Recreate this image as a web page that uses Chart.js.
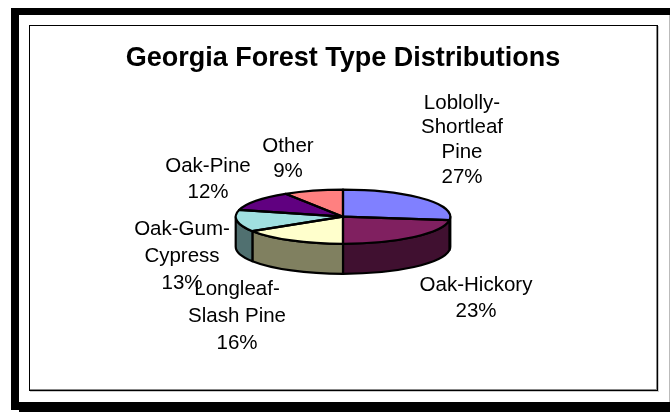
<!DOCTYPE html>
<html>
<head>
<meta charset="utf-8">
<title>Georgia Forest Type Distributions</title>
<script src="https://cdn.jsdelivr.net/npm/chart.js@4"></script>
<style>
  html, body { margin: 0; padding: 0; background: #fff; }
  body { width: 670px; height: 412px; overflow: hidden; position: relative; }
  .frame, .edge, .inner, canvas { position: absolute; box-sizing: border-box; }
  .bar { position: absolute; background: #000; }
  .edge { left: 669px; top: 15px; width: 1px; height: 387px; background: #bbb; }
  .inner { left: 29px; top: 25px; width: 629px; height: 366px; border: 1.5px solid #000; box-shadow: -1px -1px 0 #888 inset, 1px 1px 0 #ccc; }
  canvas { left: 0; top: 0; }
</style>
</head>
<body>
<div class="bar" style="left:11px;top:8px;width:8px;height:402px"></div>
<div class="bar" style="left:11px;top:8px;width:659px;height:7px"></div>
<div class="bar" style="left:19px;top:402px;width:651px;height:10px"></div>
<div class="edge"></div>
<div class="inner"></div>
<canvas id="chart" width="670" height="412"></canvas>

<script>
// ====== DATA ======
const chartTitle = 'Georgia Forest Type Distributions';
const categories = [
  ['Loblolly-', 'Shortleaf', 'Pine'],
  ['Oak-Hickory'],
  ['Longleaf-', 'Slash Pine'],
  ['Oak-Gum-', 'Cypress'],
  ['Oak-Pine'],
  ['Other']
];
const shares = [27, 23, 16, 13, 12, 9];
const topColors = ['#8080ff', '#802060', '#ffffcc', '#a0e0e0', '#600080', '#ff8080'];
const wallColors = ['#404080', '#401030', '#808060', '#507070', '#300040', '#804040'];

// ====== PIE LOOK ======
const tilt = 27 / 107;   // height/width of the top ellipse
const depth = 30;        // wall height in px
const labelFont = '20.5px "Liberation Sans", Arial, sans-serif';
// centre x, first line y and line gap of each label
const labelSpots = [
  [462, 103, 24.7], [476, 285, 26], [237, 289, 27],
  [182, 229, 27.3], [208, 166, 26], [288, 146, 25]
];

// ====== 3D PLUGIN ======
function centerOf(chart) {
  const arc = chart.getDatasetMeta(0).data[0];
  return { x: arc.x, y: arc.y, r: arc.outerRadius };
}

function strokeBlack(ctx) {
  ctx.lineWidth = 2.2;
  ctx.lineJoin = 'round';
  ctx.strokeStyle = '#000';
  ctx.stroke();
}

const tiltedPie = {
  id: 'tiltedPie',
  beforeDatasetDraw(chart) {
    const ctx = chart.ctx;
    const c = centerOf(chart);

    // walls, only the front half of the rim shows
    chart.getDatasetMeta(0).data.forEach((arc, i) => {
      const a = Math.max(arc.startAngle, 0);
      const b = Math.min(arc.endAngle, Math.PI);
      if (b <= a) return;
      ctx.beginPath();
      ctx.ellipse(c.x, c.y, c.r, c.r * tilt, 0, a, b);
      ctx.ellipse(c.x, c.y + depth, c.r, c.r * tilt, 0, b, a, true);
      ctx.closePath();
      ctx.fillStyle = wallColors[i];
      ctx.fill();
      strokeBlack(ctx);
    });

    // squash the library's arcs into the top face
    ctx.save();
    ctx.translate(c.x, c.y);
    ctx.scale(1, tilt);
    ctx.translate(-c.x, -c.y);
  },
  afterDatasetDraw(chart) {
    const ctx = chart.ctx;
    ctx.restore();
    const c = centerOf(chart);

    // slice outlines, done after the restore so the line width stays even
    chart.getDatasetMeta(0).data.forEach(arc => {
      ctx.beginPath();
      ctx.moveTo(c.x, c.y);
      ctx.ellipse(c.x, c.y, c.r, c.r * tilt, 0, arc.startAngle, arc.endAngle);
      ctx.closePath();
      strokeBlack(ctx);
    });
  },
  afterDraw(chart) {
    const ctx = chart.ctx;
    ctx.save();
    ctx.font = labelFont;
    ctx.fillStyle = '#000';
    ctx.textAlign = 'center';
    ctx.textBaseline = 'middle';
    categories.forEach((lines, i) => {
      const [x, y, gap] = labelSpots[i];
      [...lines, shares[i] + '%'].forEach((line, n) => {
        ctx.fillText(line, x, y + n * gap);
      });
    });
    ctx.restore();
  }
};

// ====== CHART ======
new Chart(document.getElementById('chart'), {
  type: 'pie',
  data: {
    labels: categories.map(lines => lines.join(' ')),
    datasets: [{
      data: shares,
      backgroundColor: topColors,
      borderWidth: 0
    }]
  },
  options: {
    responsive: false,
    animation: false,
    layout: { padding: { left: 16, right: 0, top: 0, bottom: 88 } },
    plugins: {
      legend: { display: false },
      tooltip: { enabled: false },
      title: {
        display: true,
        text: chartTitle,
        color: '#000',
        font: { family: '"Liberation Sans", Arial, sans-serif', size: 27, weight: 'bold', lineHeight: 1.2 },
        padding: { top: 42, bottom: 35 }
      }
    }
  },
  plugins: [tiltedPie]
});
</script>
</body>
</html>
